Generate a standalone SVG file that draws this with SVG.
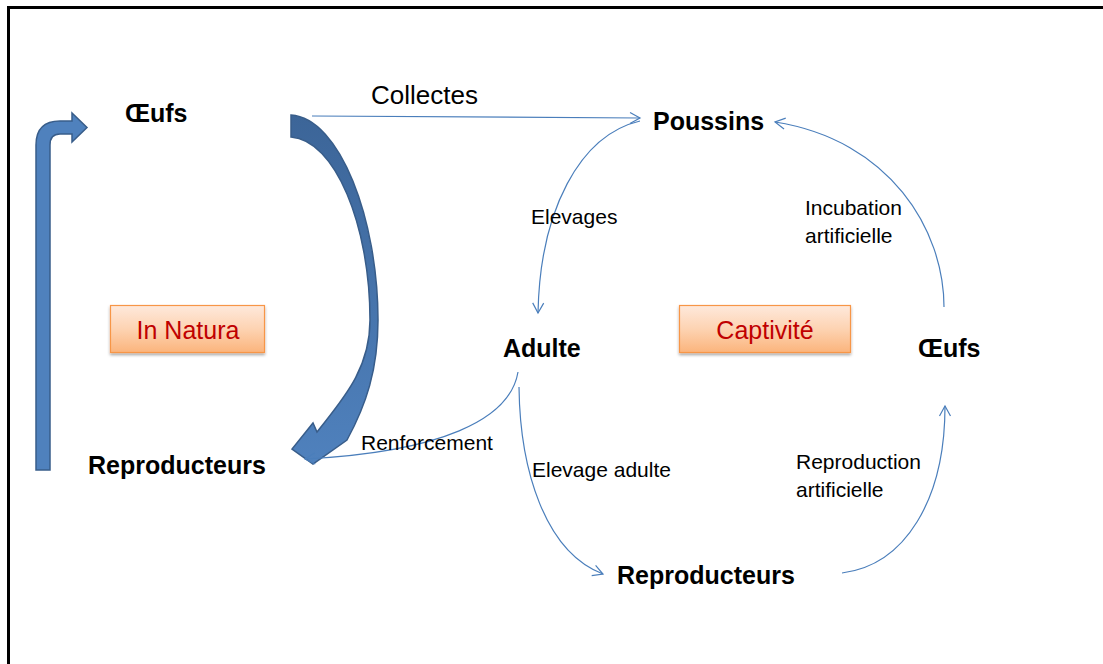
<svg xmlns="http://www.w3.org/2000/svg" width="1103" height="664" viewBox="0 0 1103 664">
<defs>
<style>
.node{font-family:"Liberation Sans",Arial,sans-serif;font-weight:bold;font-size:25px;fill:#000}
.lbl{font-family:"Liberation Sans",Arial,sans-serif;font-size:21px;fill:#000}
.big{font-family:"Liberation Sans",Arial,sans-serif;font-size:26px;fill:#000}
.tag{font-family:"Liberation Sans",Arial,sans-serif;font-size:25px;fill:#c00000;text-anchor:middle}
.conn{fill:none;stroke:#4a7ebb;stroke-width:1.2}
.box{fill:url(#og);stroke:#f79646;stroke-width:1.2}
.thick{stroke:#385d8a;stroke-width:1.5}
</style>
<linearGradient id="og" x1="0" y1="0" x2="0" y2="1">
<stop offset="0" stop-color="#fee9dc"/>
<stop offset="0.5" stop-color="#fdd3b2"/>
<stop offset="1" stop-color="#fbb47c"/>
</linearGradient>
<linearGradient id="bg" x1="0" y1="0" x2="0" y2="1">
<stop offset="0" stop-color="#3c6598"/>
<stop offset="1" stop-color="#4f81bd"/>
</linearGradient>
<filter id="sh" x="-10%" y="-20%" width="120%" height="150%">
<feDropShadow dx="0" dy="2" stdDeviation="1.5" flood-color="#000" flood-opacity="0.35"/>
</filter>
<marker id="arr" markerUnits="userSpaceOnUse" markerWidth="14" markerHeight="14" refX="11" refY="6" orient="auto" viewBox="0 0 14 12">
<path d="M1,0.5 L11,6 L1,11.5" fill="none" stroke="#4a7ebb" stroke-width="1.2"/>
</marker>
</defs>
<rect x="8.5" y="7.5" width="1200" height="700" fill="#fff" stroke="#000" stroke-width="3"/>

<g id="thick-arrows">
<path class="thick" fill="#4f81bd" d="M36,470 L36,145 Q36,121 60,121 L72,121 L72,113 L87,127.5 L72,142 L72,134 L60,134 Q50,134 50,145 L50,470 Z"/>
<path class="thick" fill="url(#bg)" d="M291,115 C340,118 378,220 378,320 C378,370 366,405 347,440 L313,464 L292,449 L313,423 L317,432 C342,400 370,370 370,320 C370,225 335,140 291,137 Z"/>
</g>

<g id="connectors">
<path class="conn" d="M312,116 L640,118" marker-end="url(#arr)"/>
<path class="conn" d="M640,121 C580,135 540,210 538,313" marker-end="url(#arr)"/>
<path class="conn" d="M944,307 C944,230 890,140 775,122" marker-end="url(#arr)"/>
<path class="conn" d="M518,372 C510,420 440,452 305,459" marker-end="url(#arr)"/>
<path class="conn" d="M519,387 C520,470 545,552 603,574" marker-end="url(#arr)"/>
<path class="conn" d="M842,573 C905,565 945,500 945,406" marker-end="url(#arr)"/>
</g>

<g id="labels">
<text class="big" x="371" y="104">Collectes</text>
<text class="lbl" x="531" y="224">Elevages</text>
<text class="lbl" x="805" y="215">Incubation</text>
<text class="lbl" x="805" y="243">artificielle</text>
<text class="lbl" x="361" y="450">Renforcement</text>
<text class="lbl" x="532" y="477">Elevage adulte</text>
<text class="lbl" x="796" y="469">Reproduction</text>
<text class="lbl" x="796" y="497">artificielle</text>
</g>

<g id="node-oeufs-nature"><text class="node" x="125" y="122">Œufs</text></g>
<g id="node-reproducteurs-nature"><text class="node" x="88" y="474">Reproducteurs</text></g>
<g id="node-poussins"><text class="node" x="653" y="130">Poussins</text></g>
<g id="node-adulte"><text class="node" x="503" y="357">Adulte</text></g>
<g id="node-oeufs-captivite"><text class="node" x="918" y="357">Œufs</text></g>
<g id="node-reproducteurs-captivite"><text class="node" x="617" y="584">Reproducteurs</text></g>

<g id="tag-in-natura">
<rect class="box" x="110.5" y="305.5" width="154" height="47" filter="url(#sh)"/>
<text class="tag" x="188" y="339">In Natura</text>
</g>
<g id="tag-captivite">
<rect class="box" x="679.5" y="305.5" width="171" height="47" filter="url(#sh)"/>
<text class="tag" x="765" y="339">Captivité</text>
</g>
</svg>
